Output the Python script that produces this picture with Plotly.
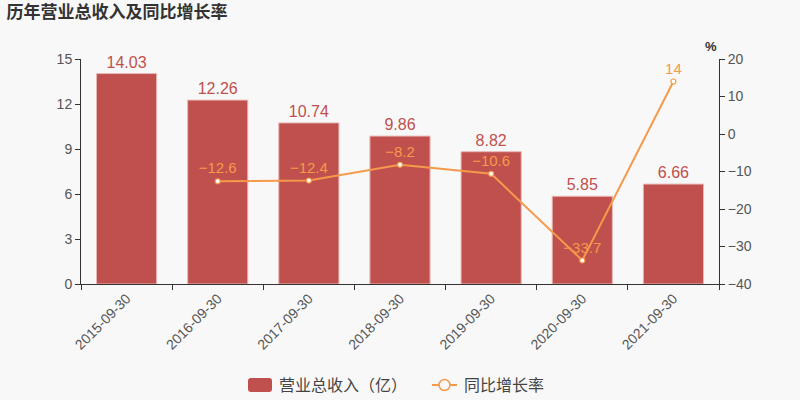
import plotly.graph_objects as go

categories = ["2015-09-30", "2016-09-30", "2017-09-30", "2018-09-30", "2019-09-30", "2020-09-30", "2021-09-30"]
revenue = [14.03, 12.26, 10.74, 9.86, 8.82, 5.85, 6.66]
growth = [None, -12.6, -12.4, -8.2, -10.6, -33.7, 14]
left_ticks = [0, 3, 6, 9, 12, 15]
right_ticks = [-40, -30, -20, -10, 0, 10, 20]
legend_labels = ["营业总收入（亿）", "同比增长率"]

font_family = "Liberation Sans, DejaVu Sans, Noto Sans CJK SC, sans-serif"
bar_color = "#c0504d"
line_color = "#f59a4a"

W, H = 800, 400
L, R, T, B = 81, 81, 59, 116
PW, PH = W - L - R, H - T - B

fig = go.Figure()
fig.add_trace(go.Bar(
    x=categories, y=revenue, name=legend_labels[0],
    marker=dict(color=bar_color, line=dict(color="#e8b7b5", width=1)),
    text=[f"{v:.2f}" for v in revenue], textposition="outside",
    textfont=dict(color=bar_color, size=16), cliponaxis=False,
))
fig.add_trace(go.Scatter(
    x=categories, y=growth, name=legend_labels[1], yaxis="y2",
    mode="lines+markers+text",
    line=dict(color=line_color, width=2),
    marker=dict(size=5, color="white", line=dict(color=line_color, width=1.2)),
    text=[("" if v is None else ("%g" % v).replace("-", "\u2212")) for v in growth],
    textposition="top center",
    textfont=dict(color=line_color, size=15), cliponaxis=False,
))

def px(x):
    return (x - L) / PW
def py(y):
    return (H - B - y) / PH

shapes = [
    dict(type="path", xref="paper", yref="paper", layer="above",
         path=(f"M {px(251)},{py(378)} L {px(269)},{py(378)} Q {px(272)},{py(378)} {px(272)},{py(381)} "
               f"L {px(272)},{py(389)} Q {px(272)},{py(392)} {px(269)},{py(392)} L {px(251)},{py(392)} "
               f"Q {px(248)},{py(392)} {px(248)},{py(389)} L {px(248)},{py(381)} Q {px(248)},{py(378)} {px(251)},{py(378)} Z"),
         fillcolor=bar_color, line=dict(width=0)),
    dict(type="line", xref="paper", yref="paper", x0=px(432), x1=px(457), y0=py(385), y1=py(385),
         line=dict(color=line_color, width=2)),
    dict(type="circle", xref="paper", yref="paper", x0=px(439), x1=px(450), y0=py(379.5), y1=py(390.5),
         fillcolor="#f8f8f8", line=dict(color=line_color, width=1.5)),
]

annotations = [
    dict(text="<b>%</b>", xref="paper", yref="paper", x=1.0, y=1.0, yshift=22,
         showarrow=False, font=dict(size=13, color="#333")),
    dict(text=legend_labels[0], xref="paper", yref="paper", x=px(277), y=py(385), xanchor="left",
         yanchor="middle", showarrow=False, font=dict(size=16, color="#444")),
    dict(text=legend_labels[1], xref="paper", yref="paper", x=px(462), y=py(385), xanchor="left",
         yanchor="middle", showarrow=False, font=dict(size=16, color="#444")),
]

fig.update_layout(
    width=W, height=H,
    margin=dict(l=L, r=R, t=T, b=B),
    paper_bgcolor="#f8f8f8", plot_bgcolor="#f8f8f8",
    font=dict(family=font_family, color="#555"),
    title=dict(text="<b>历年营业总收入及同比增长率</b>", x=0.008, xanchor="left", y=0.985, yanchor="top",
               font=dict(size=17, color="#333")),
    bargap=0.34,
    showlegend=False,
    xaxis=dict(type="category", automargin=False, showline=True, linecolor="#333", linewidth=1,
               ticks="outside", ticklen=5, tickcolor="#333", tickson="boundaries", tickangle=-45,
               tickfont=dict(size=14, color="#555"), showgrid=False),
    yaxis=dict(range=[0, 15], tickvals=left_ticks, automargin=False, showline=True, linecolor="#333",
               ticks="outside", ticklen=5, tickcolor="#333", showgrid=False, zeroline=False,
               tickfont=dict(size=14, color="#555")),
    yaxis2=dict(range=[-40, 20], tickvals=right_ticks, overlaying="y", side="right", automargin=False,
                showline=True, linecolor="#333", ticks="outside", ticklen=5, tickcolor="#333",
                showgrid=False, zeroline=False, tickfont=dict(size=14, color="#555"),
                tickformat="d"),
    shapes=shapes,
    annotations=annotations,
)
fig.write_html("out.html")
